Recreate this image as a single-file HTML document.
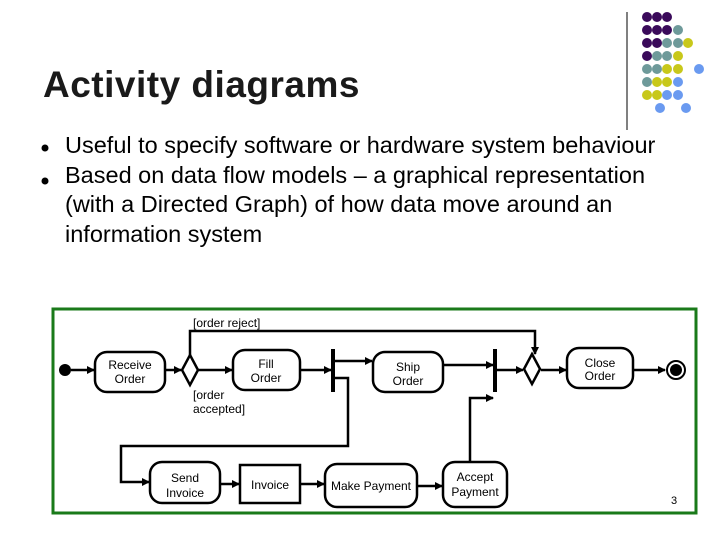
<!DOCTYPE html>
<html><head><meta charset="utf-8"><style>
body{margin:0;width:720px;height:540px;background:#fff;overflow:hidden;font-family:"Liberation Sans",sans-serif;position:relative}
.t{position:absolute;white-space:nowrap}
</style></head><body>
<div class="t" style="left:43px;top:64px;font-size:37px;font-weight:bold;color:#1a1a1a;letter-spacing:0.5px">Activity diagrams</div>
<div class="t" style="left:65px;top:131px;font-size:23.5px;line-height:29.5px;color:#000">Useful to specify software or hardware system behaviour<br>Based on data flow models – a graphical representation<br>(with a Directed Graph) of how data move around an<br>information system</div>
<svg width="720" height="540" style="position:absolute;left:0;top:0" xmlns="http://www.w3.org/2000/svg">
<circle cx="45" cy="148" r="3.5" fill="#000"/><circle cx="45" cy="181" r="3.5" fill="#000"/>
<line x1="627" y1="12" x2="627" y2="130" stroke="#000" stroke-width="1"/>
<g>
<circle cx="647" cy="17" r="5" fill="#3a0a5a"/><circle cx="657" cy="17" r="5" fill="#3a0a5a"/><circle cx="667" cy="17" r="5" fill="#3a0a5a"/>
<circle cx="647" cy="30" r="5" fill="#3a0a5a"/><circle cx="657" cy="30" r="5" fill="#3a0a5a"/><circle cx="667" cy="30" r="5" fill="#3a0a5a"/><circle cx="678" cy="30" r="5" fill="#6e9a9a"/>
<circle cx="647" cy="43" r="5" fill="#3a0a5a"/><circle cx="657" cy="43" r="5" fill="#3a0a5a"/><circle cx="667" cy="43" r="5" fill="#6e9a9a"/><circle cx="678" cy="43" r="5" fill="#6e9a9a"/><circle cx="688" cy="43" r="5" fill="#c8c81a"/>
<circle cx="647" cy="56" r="5" fill="#3a0a5a"/><circle cx="657" cy="56" r="5" fill="#6e9a9a"/><circle cx="667" cy="56" r="5" fill="#6e9a9a"/><circle cx="678" cy="56" r="5" fill="#c8c81a"/>
<circle cx="647" cy="69" r="5" fill="#6e9a9a"/><circle cx="657" cy="69" r="5" fill="#6e9a9a"/><circle cx="667" cy="69" r="5" fill="#c8c81a"/><circle cx="678" cy="69" r="5" fill="#c8c81a"/><circle cx="699" cy="69" r="5" fill="#6a9af0"/>
<circle cx="647" cy="82" r="5" fill="#6e9a9a"/><circle cx="657" cy="82" r="5" fill="#c8c81a"/><circle cx="667" cy="82" r="5" fill="#c8c81a"/><circle cx="678" cy="82" r="5" fill="#6a9af0"/>
<circle cx="647" cy="95" r="5" fill="#c8c81a"/><circle cx="657" cy="95" r="5" fill="#c8c81a"/><circle cx="667" cy="95" r="5" fill="#6a9af0"/><circle cx="678" cy="95" r="5" fill="#6a9af0"/>
<circle cx="660" cy="108" r="5" fill="#6a9af0"/><circle cx="686" cy="108" r="5" fill="#6a9af0"/>
</g>
<defs><marker id="a" markerWidth="8" markerHeight="8" refX="7" refY="4" orient="auto" markerUnits="userSpaceOnUse"><path d="M0,0 L8,4 L0,8 Z" fill="#000"/></marker></defs>
<rect x="53" y="309" width="643" height="204" fill="#fff" stroke="#1a7a1a" stroke-width="3"/>
<g stroke="#000" stroke-width="2.5" fill="none">
<line x1="71" y1="370" x2="94" y2="370" marker-end="url(#a)"/>
<line x1="165" y1="370" x2="181" y2="370" marker-end="url(#a)"/>
<line x1="198" y1="370" x2="232" y2="370" marker-end="url(#a)"/>
<line x1="300" y1="370" x2="331" y2="370" marker-end="url(#a)"/>
<line x1="335" y1="361" x2="372" y2="361" marker-end="url(#a)"/>
<polyline points="335,378 348,378 348,446 121,446 121,482 149,482" marker-end="url(#a)"/>
<line x1="443" y1="365" x2="493" y2="365" marker-end="url(#a)"/>
<polyline points="470,462 470,398 493,398" marker-end="url(#a)"/>
<line x1="497" y1="370" x2="523" y2="370" marker-end="url(#a)"/>
<polyline points="190,355 190,331 535,331 535,354" marker-end="url(#a)"/>
<line x1="541" y1="370" x2="566" y2="370" marker-end="url(#a)"/>
<line x1="633" y1="370" x2="665" y2="370" marker-end="url(#a)"/>
<line x1="220" y1="484" x2="239" y2="484" marker-end="url(#a)"/>
<line x1="300" y1="484" x2="324" y2="484" marker-end="url(#a)"/>
<line x1="417" y1="486" x2="442" y2="486" marker-end="url(#a)"/>
<rect x="95" y="352" width="70" height="40" rx="12"/>
<rect x="233" y="350" width="67" height="40" rx="12"/>
<rect x="373" y="352" width="70" height="40" rx="12"/>
<rect x="567" y="348" width="66" height="40" rx="12"/>
<rect x="150" y="462" width="70" height="41" rx="12"/>
<rect x="240" y="465" width="60" height="38"/>
<rect x="325" y="464" width="92" height="43" rx="12"/>
<rect x="443" y="462" width="64" height="45" rx="12"/>
<polygon points="190,355 198,370 190,385 182,370" fill="#fff"/>
<polygon points="532,354 540,369 532,384 524,369" fill="#fff"/>
</g>
<rect x="331" y="349" width="4" height="43" fill="#000"/>
<rect x="493" y="349" width="4" height="43" fill="#000"/>
<circle cx="65" cy="370" r="6" fill="#000"/>
<circle cx="676" cy="370" r="9" fill="#fff" stroke="#000" stroke-width="2"/>
<circle cx="676" cy="370" r="6" fill="#000"/>
<g font-family="Liberation Sans,sans-serif" font-size="12" text-anchor="middle" fill="#000">
<text x="130" y="369">Receive</text><text x="130" y="383">Order</text>
<text x="266" y="368">Fill</text><text x="266" y="382">Order</text>
<text x="408" y="371">Ship</text><text x="408" y="385">Order</text>
<text x="600" y="367">Close</text><text x="600" y="380">Order</text>
<text x="185" y="482">Send</text><text x="185" y="497">Invoice</text>
<text x="270" y="489">Invoice</text>
<text x="371" y="490">Make Payment</text>
<text x="475" y="481">Accept</text><text x="475" y="496">Payment</text>
<text x="193" y="327" text-anchor="start">[order reject]</text>
<text x="193" y="399" text-anchor="start">[order</text><text x="193" y="413" text-anchor="start">accepted]</text>
<text x="674" y="504" font-size="11">3</text>
</g>
</svg>
</body></html>
